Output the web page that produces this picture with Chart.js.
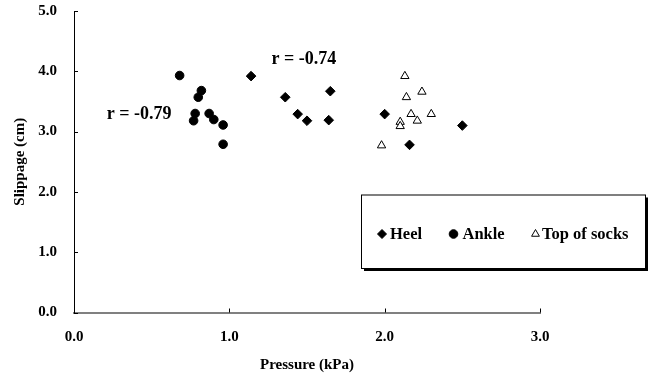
<!DOCTYPE html>
<html>
<head>
<meta charset="utf-8">
<script src="https://cdn.jsdelivr.net/npm/chart.js@4.4.0/dist/chart.umd.min.js"></script>
<style>
  html, body { margin: 0; padding: 0; background: #fff; }
</style>
</head>
<body>
<canvas id="myChart" width="652" height="378"></canvas>
<script>
// Slippage vs pressure, three measuring spots
const heelPressure = [1.14, 1.36, 1.44, 1.50, 1.65, 1.64, 2.00, 2.16, 2.50];
const heelSlippage = [3.92, 3.57, 3.29, 3.18, 3.67, 3.19, 3.29, 2.78, 3.10];

const anklePressure = [0.68, 0.82, 0.80, 0.78, 0.77, 0.87, 0.90, 0.96, 0.96];
const ankleSlippage = [3.93, 3.68, 3.57, 3.30, 3.18, 3.30, 3.20, 3.11, 2.79];

const sockPressure = [2.13, 2.24, 2.14, 2.17, 2.30, 2.21, 2.10, 2.10, 1.98];
const sockSlippage = [3.92, 3.66, 3.57, 3.29, 3.29, 3.18, 3.16, 3.09, 2.77];

const seriesNames = ["Heel", "Ankle", "Top of socks"];
const correlations = ["r = -0.79", "r = -0.74"];

const serif = "'Times New Roman', 'Liberation Serif', serif";

function toPoints(xs, ys) {
  return xs.map((x, i) => ({ x: x, y: ys[i] }));
}

// small ticks pointing into the plot, like the original
const innerTicks = {
  id: "innerTicks",
  afterDatasetsDraw(chart) {
    const { ctx, chartArea, scales } = chart;
    ctx.save();
    ctx.strokeStyle = "#000";
    ctx.lineWidth = 1;
    ctx.beginPath();
    scales.y.ticks.forEach((t, i) => {
      const py = Math.round(scales.y.getPixelForTick(i)) + 0.5;
      ctx.moveTo(chartArea.left, py);
      ctx.lineTo(chartArea.left + 4, py);
    });
    scales.x.ticks.forEach((t, i) => {
      const px = Math.round(scales.x.getPixelForTick(i)) + 0.5;
      ctx.moveTo(px, chartArea.bottom);
      ctx.lineTo(px, chartArea.bottom - 4);
    });
    ctx.stroke();
    ctx.restore();
  },
};

// r values written next to each cluster
const rLabels = {
  id: "rLabels",
  afterDatasetsDraw(chart) {
    const { ctx, scales } = chart;
    ctx.save();
    ctx.fillStyle = "#000";
    ctx.font = "bold 18px " + serif;
    ctx.textAlign = "center";
    ctx.textBaseline = "middle";
    ctx.fillText(correlations[0], scales.x.getPixelForValue(0.42), scales.y.getPixelForValue(3.29));
    ctx.fillText(correlations[1], scales.x.getPixelForValue(1.48), scales.y.getPixelForValue(4.2));
    ctx.restore();
  },
};

// boxed legend with a drop shadow
const boxLegend = {
  id: "boxLegend",
  afterDraw(chart) {
    const ctx = chart.ctx;
    const bx = 361, by = 194.5, bw = 284, bh = 73.5;
    ctx.save();
    ctx.fillStyle = "#000";
    ctx.fillRect(bx + 3, by + 3, bw, bh);
    ctx.fillStyle = "#fff";
    ctx.fillRect(bx, by, bw, bh);
    ctx.strokeStyle = "#000";
    ctx.lineWidth = 1;
    ctx.strokeRect(bx + 0.5, by + 0.5, bw, bh);

    const rowY = 234;
    const items = [
      { style: "rectRot", r: 4.5, fill: "#000", mx: 382, tx: 390 },
      { style: "circle", r: 4.3, fill: "#000", mx: 453.5, tx: 462.5 },
      { style: "triangle", r: 4.5, fill: "#fff", mx: 535.5, tx: 542 },
    ];
    items.forEach((it, i) => {
      ctx.fillStyle = it.fill;
      ctx.strokeStyle = "#000";
      ctx.lineWidth = 1;
      Chart.helpers.drawPoint(ctx, { pointStyle: it.style, radius: it.r, rotation: 0, borderWidth: 1 }, it.mx, rowY);
      ctx.fillStyle = "#000";
      ctx.font = "bold 16.5px " + serif;
      ctx.textAlign = "left";
      ctx.textBaseline = "middle";
      ctx.fillText(seriesNames[i], it.tx, rowY + 1);
    });
    ctx.restore();
  },
};

const ctx = document.getElementById("myChart").getContext("2d");
new Chart(ctx, {
  type: "scatter",
  data: {
    datasets: [
      {
        label: seriesNames[0],
        data: toPoints(heelPressure, heelSlippage),
        pointStyle: "rectRot",
        pointRadius: 4.8,
        backgroundColor: "#000",
        borderColor: "#000",
        borderWidth: 1,
      },
      {
        label: seriesNames[1],
        data: toPoints(anklePressure, ankleSlippage),
        pointStyle: "circle",
        pointRadius: 4.3,
        backgroundColor: "#000",
        borderColor: "#000",
        borderWidth: 1,
      },
      {
        label: seriesNames[2],
        data: toPoints(sockPressure, sockSlippage),
        pointStyle: "triangle",
        pointRadius: 4.8,
        backgroundColor: "#fff",
        borderColor: "#000",
        borderWidth: 1,
      },
    ],
  },
  options: {
    responsive: false,
    animation: false,
    layout: { padding: { left: 0, right: 112, top: 11, bottom: 0 } },
    plugins: {
      legend: { display: false },
      tooltip: { enabled: false },
    },
    scales: {
      x: {
        type: "linear",
        min: 0,
        max: 3,
        ticks: {
          stepSize: 1,
          padding: 16,
          color: "#000",
          font: { family: serif, size: 15, weight: "bold" },
          callback: (v) => v.toFixed(1),
        },
        grid: { display: false, drawTicks: false },
        border: { display: true, color: "#808080", width: 2 },
        title: {
          display: true,
          text: "Pressure (kPa)",
          color: "#000",
          font: { family: serif, size: 15, weight: "bold" },
          padding: { top: 0, bottom: 4 },
        },
        afterFit: (scale) => { scale.height = 65.5; },
      },
      y: {
        type: "linear",
        min: 0,
        max: 5,
        ticks: {
          stepSize: 1,
          padding: 17,
          color: "#000",
          font: { family: serif, size: 15, weight: "bold" },
          callback: (v) => v.toFixed(1),
        },
        grid: { display: false, drawTicks: false },
        border: { display: true, color: "#000", width: 1 },
        title: {
          display: true,
          text: "Slippage (cm)",
          color: "#000",
          font: { family: serif, size: 15, weight: "bold" },
          padding: { top: 11, bottom: 0 },
        },
        afterFit: (scale) => {
          scale.width = 74;
          // keep the plot top pinned by the layout padding only
          scale.paddingTop = 0;
          scale.paddingBottom = 0;
        },
      },
    },
  },
  plugins: [innerTicks, rLabels, boxLegend],
});
</script>
</body>
</html>
